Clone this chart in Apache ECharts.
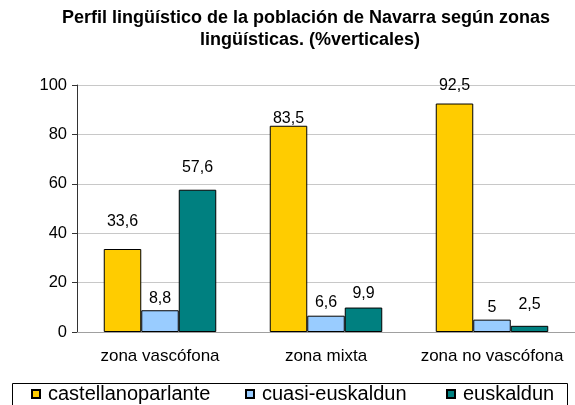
<!DOCTYPE html>
<html>
<head>
<meta charset="utf-8">
<script src="https://cdn.jsdelivr.net/npm/echarts@6/dist/echarts.min.js"></script>
<style>
  html, body { margin: 0; padding: 0; background: #fff; }
  #chart { width: 575px; height: 405px; }
</style>
</head>
<body>
<div id="chart"></div>
<script>
// datos
const zonas = ['zona vascófona', 'zona mixta', 'zona no vascófona'];
const castellanoparlante = [33.6, 83.5, 92.5];
const cuasiEuskaldun = [8.8, 6.6, 5];
const euskaldun = [57.6, 9.9, 2.5];
const yTicks = [0, 20, 40, 60, 80, 100];

// separación de las etiquetas respecto a la barra (px), movidas a mano en el original
const labelGap = {
  castellanoparlante: [19, -1, 10],
  cuasi: [4, 5, 4],
  euskaldun: [14, 6, 13]
};

const FONT = '"Liberation Sans", Arial, sans-serif';
const fmt = v => String(v).replace('.', ',');

const makeSeries = (name, values, gaps, color) => ({
  name,
  type: 'bar',
  barWidth: 37.5,
  barGap: '0%',
  itemStyle: { color, borderColor: '#000', borderWidth: 1 },
  label: {
    show: true,
    position: 'top',
    color: '#000',
    fontFamily: FONT,
    fontSize: 16,
    formatter: p => fmt(p.value)
  },
  data: values.map((v, i) => ({ value: v, label: { distance: gaps[i] } }))
});

const legendItem = (name, left) => ({
  data: [name],
  left,
  top: 384,
  itemWidth: 8,
  itemHeight: 8,
  padding: 0,
  icon: 'rect',
  textStyle: { color: '#000', fontFamily: FONT, fontSize: 20, padding: [0, 0, 0, 3] }
});

const titleStyle = { fontFamily: FONT, fontSize: 18, fontWeight: 'bold', color: '#000' };

const chart = echarts.init(document.getElementById('chart'), null, { renderer: 'canvas' });

chart.setOption({
  animation: false,
  title: [
    {
      text: 'Perfil lingüístico de la población de Navarra según zonas',
      left: 306,
      top: 9,
      textAlign: 'center',
      padding: 0,
      textStyle: titleStyle
    },
    {
      text: 'lingüísticas. (%verticales)',
      left: 310,
      top: 31,
      textAlign: 'center',
      padding: 0,
      textStyle: titleStyle
    }
  ],
  legend: [
    legendItem('castellanoparlante', 31),
    legendItem('cuasi-euskaldun', 245),
    legendItem('euskaldun', 446)
  ],
  graphic: [
    {
      type: 'rect',
      left: 10,
      top: 381,
      shape: { width: 555, height: 40 },
      style: { fill: 'none', stroke: '#000', lineWidth: 1 },
      z: -1
    }
  ],
  grid: { left: 77, top: 85, right: -7, height: 247, containLabel: false },
  xAxis: {
    type: 'category',
    data: zonas,
    axisLine: { lineStyle: { color: '#a0a0a0', width: 1 } },
    axisTick: { show: false },
    axisLabel: { interval: 0, color: '#000', fontFamily: FONT, fontSize: 17, margin: 16 }
  },
  yAxis: {
    type: 'value',
    min: yTicks[0],
    max: yTicks[yTicks.length - 1],
    interval: yTicks[1] - yTicks[0],
    axisLine: { show: true, lineStyle: { color: '#333', width: 1 } },
    axisTick: { show: true, length: 5, lineStyle: { color: '#333' } },
    splitLine: { lineStyle: { color: '#c8c8c8', width: 1 } },
    axisLabel: { color: '#000', fontFamily: FONT, fontSize: 16.5, margin: 10 }
  },
  series: [
    makeSeries('castellanoparlante', castellanoparlante, labelGap.castellanoparlante, '#FFCC00'),
    makeSeries('cuasi-euskaldun', cuasiEuskaldun, labelGap.cuasi, '#99CCFF'),
    makeSeries('euskaldun', euskaldun, labelGap.euskaldun, '#008080')
  ]
});
</script>
</body>
</html>
